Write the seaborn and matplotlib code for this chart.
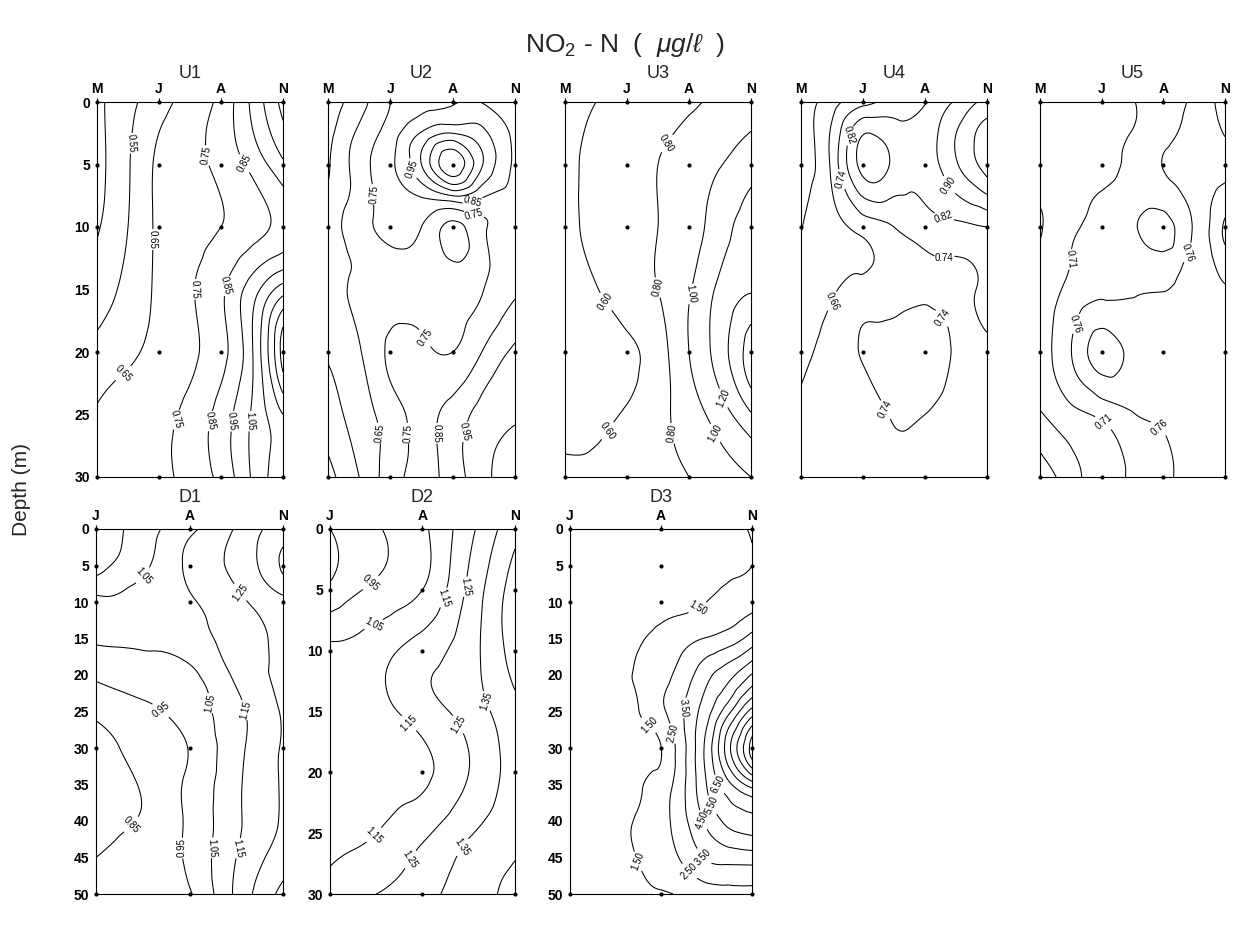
import numpy as np
import matplotlib
matplotlib.use("Agg")
import matplotlib.pyplot as plt
import matplotlib.tri as mtri
import pandas as pd
import seaborn as sns

U_MONTHS = ["M", "J", "A", "N"]
D_MONTHS = ["J", "A", "N"]

# sampled depths (dots) per section
U_SAMPLE_DEPTHS = [0, 5, 10, 20, 30]
D1_SAMPLE_DEPTHS = [0, 5, 10, 30, 50]
D2_SAMPLE_DEPTHS = [0, 5, 10, 20, 30]
D3_SAMPLE_DEPTHS = [0, 5, 10, 30, 50]

# U1
U1_cols = [0, 0.5, 1, 1.5, 2, 2.5, 3]
U1_depths = [0, 5, 10, 15, 20, 25, 30]
U1_values = [
    [0.43, 0.52, 0.61, 0.69, 0.78, 0.97, 1.18],
    [0.42, 0.54, 0.67, 0.72, 0.78, 0.88, 1.03],
    [0.44, 0.55, 0.67, 0.72, 0.75, 0.81, 0.88],
    [0.50, 0.58, 0.67, 0.74, 0.83, 1.00, 1.20],
    [0.58, 0.63, 0.68, 0.73, 0.82, 1.04, 1.50],
    [0.66, 0.70, 0.72, 0.78, 0.89, 1.06, 1.25],
    [0.68, 0.70, 0.72, 0.79, 0.88, 1.06, 1.22],
]
U1_levels = [0.45, 0.55, 0.65, 0.75, 0.85, 0.95, 1.05, 1.15, 1.25, 1.35, 1.45]
U1_labels = [(0.54, 3.3), (0.75, 11), (0.59, 22.5), (1.76, 4.3), (1.64, 15),
             (1.34, 25.5), (2.31, 5.1), (2.15, 14.8), (1.8, 25.5), (2.12, 25.5),
             (2.39, 25.5)]

# U2
U2_cols = [0, 0.5, 1, 1.5, 2, 2.5, 3]
U2_depths = [0, 2.5, 5, 7.5, 10, 12.5, 15, 20, 25, 30]
U2_values = [
    [0.50, 0.61, 0.75, 0.82, 0.84, 0.84, 0.80],
    [0.52, 0.67, 0.80, 0.96, 1.05, 0.97, 0.83],
    [0.54, 0.70, 0.83, 1.05, 1.32, 1.04, 0.83],
    [0.57, 0.69, 0.80, 0.86, 0.95, 0.86, 0.82],
    [0.60, 0.71, 0.78, 0.75, 0.62, 0.74, 0.80],
    [0.60, 0.67, 0.72, 0.72, 0.64, 0.73, 0.79],
    [0.60, 0.67, 0.69, 0.70, 0.70, 0.75, 0.83],
    [0.56, 0.64, 0.77, 0.78, 0.75, 0.86, 0.97],
    [0.50, 0.60, 0.70, 0.80, 0.89, 0.99, 1.04],
    [0.42, 0.55, 0.70, 0.80, 0.90, 1.02, 1.12],
]
U2_levels = [0.45, 0.55, 0.65, 0.75, 0.85, 0.95, 1.05, 1.15, 1.25]
U2_labels = [(0.7, 7.4), (1.31, 5.4), (2.33, 8.1), (2.33, 9.3), (1.58, 18.8),
             (0.78, 26.5), (1.26, 26.5), (1.79, 26.5), (2.3, 26.5)]

# U3
U3_cols = [0, 0.5, 1, 1.5, 2, 2.5, 3]
U3_depths = [0, 5, 10, 15, 20, 25, 30]
U3_values = [
    [0.52, 0.60, 0.66, 0.70, 0.77, 0.84, 0.90],
    [0.56, 0.64, 0.71, 0.80, 0.88, 0.99, 1.12],
    [0.55, 0.64, 0.70, 0.80, 0.90, 1.12, 1.28],
    [0.50, 0.59, 0.70, 0.80, 0.98, 1.24, 1.38],
    [0.47, 0.50, 0.56, 0.71, 1.00, 1.30, 1.72],
    [0.55, 0.56, 0.62, 0.74, 0.90, 1.10, 1.38],
    [0.62, 0.62, 0.66, 0.72, 0.80, 0.90, 1.00],
]
U3_levels = [0.4, 0.6, 0.8, 1.0, 1.2, 1.4, 1.6]
U3_labels = [(1.67, 3.4), (0.65, 16), (1.45, 14.9), (1.96, 15.3), (0.75, 26.5),
             (1.75, 26.5), (2.45, 23.9), (2.34, 26.7)]

# U4
U4_cols = [0, 0.5, 1, 1.5, 2, 2.5, 3]
U4_depths = [0, 5, 10, 15, 20, 25, 30]
U4_values = [
    [0.54, 0.63, 0.71, 0.77, 0.815, 0.91, 1.00],
    [0.55, 0.68, 0.93, 0.88, 0.86, 0.97, 1.10],
    [0.578, 0.63, 0.69, 0.74, 0.78, 0.80, 0.82],
    [0.61, 0.65, 0.69, 0.71, 0.725, 0.725, 0.755],
    [0.645, 0.69, 0.745, 0.76, 0.78, 0.73, 0.72],
    [0.67, 0.69, 0.71, 0.745, 0.74, 0.71, 0.70],
    [0.69, 0.70, 0.71, 0.72, 0.72, 0.71, 0.70],
]
U4_levels = [0.50, 0.58, 0.66, 0.74, 0.82, 0.90, 0.98, 1.06]
U4_labels = [(0.72, 2.6), (0.57, 6.3), (2.4, 6.6), (2.32, 9), (2.32, 13.4),
             (0.58, 16.1), (2.27, 17.3), (1.33, 24.7)]

# U5
U5_cols = [0, 0.5, 1, 1.5, 2, 2.25, 2.5, 3]
U5_depths = [0, 2.5, 5, 7.5, 10, 12.5, 15, 20, 25, 30]
U5_values = [
    [0.680, 0.690, 0.700, 0.708, 0.735, 0.750, 0.772, 0.830],
    [0.675, 0.685, 0.695, 0.712, 0.745, 0.762, 0.785, 0.812],
    [0.670, 0.680, 0.690, 0.725, 0.762, 0.775, 0.790, 0.800],
    [0.665, 0.685, 0.715, 0.740, 0.748, 0.755, 0.775, 0.825],
    [0.655, 0.700, 0.730, 0.755, 0.775, 0.752, 0.765, 0.870],
    [0.668, 0.710, 0.735, 0.748, 0.752, 0.755, 0.770, 0.840],
    [0.680, 0.722, 0.745, 0.755, 0.758, 0.768, 0.780, 0.805],
    [0.690, 0.758, 0.830, 0.795, 0.790, 0.790, 0.790, 0.790],
    [0.655, 0.695, 0.722, 0.757, 0.768, 0.775, 0.780, 0.790],
    [0.580, 0.638, 0.690, 0.716, 0.755, 0.762, 0.772, 0.790],
]
U5_levels = [0.61, 0.66, 0.71, 0.76, 0.81, 0.86]
U5_labels = [(0.57, 12.6), (2.38, 12), (0.62, 17.8), (0.89, 26.5), (1.84, 26.5)]

# D1
D1_cols = [0, 0.5, 1, 1.5, 2]
D1_depths = [0, 5, 10, 15, 20, 25, 30, 35, 40, 45, 50]
D1_values = [
    [0.88, 1.00, 1.13, 1.26, 1.40],
    [0.90, 1.03, 1.17, 1.28, 1.47],
    [1.07, 1.09, 1.14, 1.22, 1.32],
    [1.06, 1.07, 1.11, 1.19, 1.28],
    [0.97, 1.01, 1.03, 1.17, 1.27],
    [0.87, 0.92, 1.00, 1.12, 1.26],
    [0.80, 0.88, 0.955, 1.12, 1.26],
    [0.78, 0.86, 0.97, 1.13, 1.26],
    [0.79, 0.86, 0.97, 1.13, 1.26],
    [0.85, 0.90, 0.97, 1.15, 1.30],
    [0.88, 0.91, 0.94, 1.17, 1.38],
]
D1_levels = [0.75, 0.85, 0.95, 1.05, 1.15, 1.25, 1.35, 1.45]
D1_labels = [(0.45, 5.7), (1.56, 8.5), (0.69, 24.9), (1.15, 24), (1.56, 24.9),
             (0.38, 40.5), (0.94, 43.7), (1.28, 43.7), (1.51, 43.7)]

# D2
D2_cols = [0, 0.5, 1, 1.5, 2]
D2_depths = [0, 5, 10, 15, 20, 25, 30]
D2_values = [
    [0.85, 0.94, 1.03, 1.22, 1.42],
    [0.87, 0.97, 1.05, 1.27, 1.50],
    [1.07, 1.11, 1.20, 1.31, 1.50],
    [1.09, 1.12, 1.20, 1.29, 1.42],
    [1.10, 1.11, 1.13, 1.25, 1.40],
    [1.12, 1.15, 1.23, 1.34, 1.42],
    [1.18, 1.25, 1.32, 1.40, 1.48],
]
D2_levels = [0.85, 0.95, 1.05, 1.15, 1.25, 1.35, 1.45]
D2_labels = [(0.45, 4.5), (0.49, 8.1), (1.17, 5.5), (1.42, 4.7), (0.81, 16.3),
             (1.33, 16.3), (1.59, 14.4), (0.47, 25.1), (0.9, 27.3), (1.44, 26.2)]

# D3
D3_cols = [0, 0.5, 0.75, 1, 1.5, 1.75, 2]
D3_depths = [0, 5, 10, 15, 20, 25, 30, 35, 40, 45, 50]
D3_values = [
    [1.10, 1.15, 1.18, 1.20, 1.30, 1.40, 1.55],
    [1.10, 1.15, 1.18, 1.20, 1.30, 1.40, 1.50],
    [1.10, 1.15, 1.20, 1.28, 1.50, 1.75, 2.10],
    [1.15, 1.30, 1.45, 1.70, 2.55, 3.00, 3.90],
    [1.15, 1.40, 1.55, 2.10, 4.20, 5.20, 6.60],
    [1.20, 1.38, 1.48, 2.30, 5.10, 7.30, 9.90],
    [1.25, 1.35, 1.42, 1.48, 5.80, 9.30, 13.00],
    [1.25, 1.35, 1.45, 1.90, 5.50, 7.30, 9.00],
    [1.25, 1.40, 1.55, 2.10, 4.70, 5.80, 6.20],
    [1.25, 1.38, 1.52, 1.90, 3.60, 3.90, 4.00],
    [1.25, 1.30, 1.35, 1.45, 1.90, 2.10, 2.20],
]
D3_levels = [1.5, 2.5, 3.5, 4.5, 5.5, 6.5, 7.5, 8.5, 9.5, 10.5, 11.5, 12.5]
D3_labels = [(1.39, 10.5), (0.84, 27.2), (1.1, 28.1), (1.27, 24.5), (1.6, 35.2),
             (1.58, 37.7), (1.43, 40), (1.54, 44.1), (1.38, 46), (0.75, 45.5)]

# ---------- LAYOUT -------------------------------------------------------------
W, H = 1234, 925
DT, DB = 529, 894   # top / bottom of the lower row, pixels
# (left, top, right, bottom) in pixels
PANELS = [
    dict(name="U1", cols=U1_cols, depths=U1_depths, values=U1_values, levels=U1_levels,
         labels=U1_labels, months=U_MONTHS, samples=U_SAMPLE_DEPTHS, box=(97, 102, 283, 477), ylab=True),
    dict(name="U2", cols=U2_cols, depths=U2_depths, values=U2_values, levels=U2_levels,
         labels=U2_labels, months=U_MONTHS, samples=U_SAMPLE_DEPTHS, box=(328, 102, 515, 477), ylab=False),
    dict(name="U3", cols=U3_cols, depths=U3_depths, values=U3_values, levels=U3_levels,
         labels=U3_labels, months=U_MONTHS, samples=U_SAMPLE_DEPTHS, box=(565, 102, 751, 477), ylab=False),
    dict(name="U4", cols=U4_cols, depths=U4_depths, values=U4_values, levels=U4_levels,
         labels=U4_labels, months=U_MONTHS, samples=U_SAMPLE_DEPTHS, box=(801, 102, 987, 477), ylab=False),
    dict(name="U5", cols=U5_cols, depths=U5_depths, values=U5_values, levels=U5_levels,
         labels=U5_labels, months=U_MONTHS, samples=U_SAMPLE_DEPTHS, box=(1040, 102, 1225, 477), ylab=False),
    dict(name="D1", cols=D1_cols, depths=D1_depths, values=D1_values, levels=D1_levels,
         labels=D1_labels, months=D_MONTHS, samples=D1_SAMPLE_DEPTHS, box=(96, DT, 283, DB), ylab=True),
    dict(name="D2", cols=D2_cols, depths=D2_depths, values=D2_values, levels=D2_levels,
         labels=D2_labels, months=D_MONTHS, samples=D2_SAMPLE_DEPTHS, box=(330, DT, 515, DB), ylab=True),
    dict(name="D3", cols=D3_cols, depths=D3_depths, values=D3_values, levels=D3_levels,
         labels=D3_labels, months=D_MONTHS, samples=D3_SAMPLE_DEPTHS, box=(570, DT, 752, DB), ylab=True),
]

sns.set_theme(style="white")
plt.rcParams["font.family"] = ["Liberation Sans", "DejaVu Sans"]
plt.rcParams["mathtext.fontset"] = "custom"
plt.rcParams["mathtext.rm"] = "Liberation Sans"
plt.rcParams["mathtext.it"] = "Liberation Sans:italic"
plt.rcParams["mathtext.bf"] = "Liberation Sans:bold"


def grid_triangles(nr, nc):
    tris = []
    for i in range(nr - 1):
        for j in range(nc - 1):
            a = i * nc + j
            tris.append([a, a + 1, a + nc + 1])
            tris.append([a, a + nc + 1, a + nc])
    return np.array(tris)


def draw_panel(fig, p):
    l, t, r, b = p["box"]
    ax = fig.add_axes([l / W, 1 - b / H, (r - l) / W, (b - t) / H])
    cols = np.array(p["cols"], float)
    deps = np.array(p["depths"], float)
    xmax, dmax = cols[-1], deps[-1]
    # scale depth so the triangulation has the on-screen aspect
    sy = (xmax / dmax) * ((b - t) / (r - l))
    gx, gd = np.meshgrid(cols, deps)
    z = np.asarray(p["values"], float).ravel()
    tri = mtri.Triangulation(gx.ravel(), gd.ravel() * sy, grid_triangles(len(deps), len(cols)))
    interp = mtri.CubicTriInterpolator(tri, z, kind="min_E")
    tri_f, z_f = mtri.UniformTriRefiner(tri).refine_field(z, triinterpolator=interp, subdiv=4)
    tri_f = mtri.Triangulation(tri_f.x, tri_f.y / sy, tri_f.triangles)

    cs = ax.tricontour(tri_f, z_f, levels=p["levels"], colors="black", linewidths=0.75)
    ax.clabel(cs, fmt="%.2f", fontsize=7, inline=True, inline_spacing=1,
              manual=p["labels"])

    # station dots
    pts = pd.DataFrame([(m, d) for m in range(len(p["months"])) for d in p["samples"]],
                       columns=["month", "depth"])
    sns.scatterplot(data=pts, x="month", y="depth", ax=ax, color="black", s=9,
                    linewidth=0, clip_on=False, legend=False, zorder=5)

    ax.set_xlim(0, xmax)
    ax.set_ylim(dmax, 0)
    ax.set_xlabel("")
    ax.set_ylabel("")
    ax.xaxis.tick_top()
    ax.set_xticks(range(len(p["months"])))
    ax.set_xticklabels(p["months"], fontweight="bold")
    yt = list(range(0, int(dmax) + 1, 5))
    ax.set_yticks(yt)
    if p["ylab"]:
        ax.set_yticklabels([str(v) for v in yt], fontweight="bold")
    else:
        ax.set_yticklabels([])
    ax.tick_params(axis="both", direction="out", length=3, width=0.8, pad=2,
                   labelsize=10, colors="black")
    ax.tick_params(axis="x", pad=1)
    for s in ax.spines.values():
        s.set_color("black")
        s.set_linewidth(0.8)
    off = (24 if p["name"].startswith("U") else 27) / (b - t)
    ax.text(0.5, 1 + off, p["name"], transform=ax.transAxes, ha="center",
            va="baseline", fontsize=13)
    return ax


fig = plt.figure(figsize=(W / 100, H / 100), dpi=100)
fig.patch.set_facecolor("white")
for p in PANELS:
    draw_panel(fig, p)

fig.text(625 / W, 1 - 52 / H, r"NO$_2$ - N  (  $\mu g/\ell$  )", ha="center",
         va="baseline", fontsize=19)
fig.text(22 / W, 1 - 490 / H, "Depth (m)", rotation=90, ha="center", va="center",
         fontsize=15)

fig.savefig("out.png", dpi=100, facecolor="white")
